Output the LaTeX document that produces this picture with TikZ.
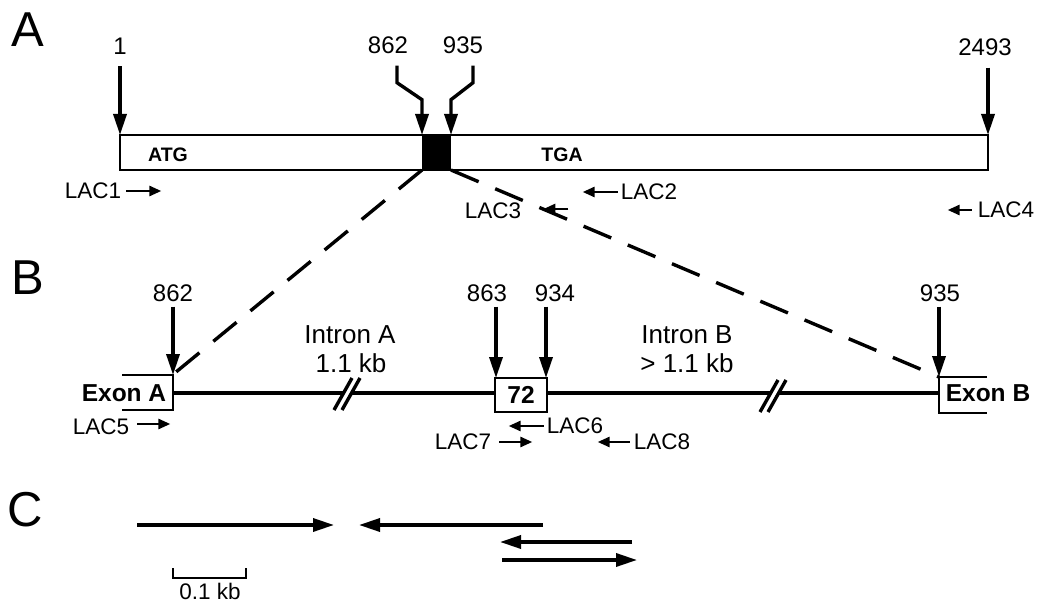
\documentclass[tikz,border=0pt]{standalone}
\usepackage{fontspec}
\setmainfont{Liberation Sans}
\usetikzlibrary{arrows.meta}
\tikzset{
  big/.style={line width=3.4pt,-{Triangle[length=21pt,width=13pt]}},
  prim/.style={line width=2.6pt,-{Triangle[length=12pt,width=10pt]}},
  lac/.style={font=\fontsize{22.5}{26}\selectfont,inner sep=0pt},
  num/.style={font=\fontsize{24}{28}\selectfont,inner sep=0pt},
  intr/.style={font=\fontsize{26}{30}\selectfont,inner sep=0pt},
  panel/.style={font=\fontsize{49}{55}\selectfont,inner sep=0pt},
  exon/.style={font=\bfseries\fontsize{24.5}{28}\selectfont,inner sep=0pt},
  codon/.style={font=\bfseries\fontsize{19.5}{22}\selectfont,inner sep=0pt},
  boxline/.style={line width=2.8pt},
  dashline/.style={line width=3.4pt,dash pattern=on 30pt off 18pt},
  brk/.pic={
    \fill[white] (-13,16) -- (-5,16) -- (13,-16) -- (5,-16) -- cycle;
    \draw[line width=3.4pt] (-13,16) -- (5,-16);
    \draw[line width=3.4pt] (-5,16) -- (13,-16);
  }
}
\begin{document}
\begin{tikzpicture}[x=1pt,y=-1pt]
\useasboundingbox (0,0) rectangle (1043,604);
% ---------------- Panel A ----------------
\node[panel] (pA) at (28,30) {A};
\node[draw,boxline,minimum width=868pt,minimum height=35pt,inner sep=0pt,outer sep=0pt,anchor=north west] (gene) at (120,135) {};
\node[fill=black,minimum width=29pt,minimum height=35pt,inner sep=0pt,outer sep=0pt,anchor=north west] (blk) at (422,135) {};
\node[codon] (atg) at (168,155) {ATG};
\node[codon] (tga) at (562,155) {TGA};
\node[num] (n1) at (120,46) {1};
\node[num] (n862) at (388,45) {862};
\node[num] (n935) at (463,45) {935};
\node[num] (n2493) at (985,47) {2493};
\draw[big] ([yshift=-12pt]n1.south) -- (gene.north west);
\draw[big,line join=miter] ([xshift=9pt,yshift=-12pt]n862.south) -- ++(0,17) -- ++(25,17) -- (blk.north west);
\draw[big,line join=miter] ([xshift=10pt,yshift=-12pt]n935.south) -- ++(0,17) -- ++(-22,17) -- (blk.north east);
\draw[big] ([xshift=3pt,yshift=-12pt]n2493.south) -- (gene.north east);
% exon boxes in B (coordinates)
\coordinate (eAtr) at (173,375);
\coordinate (eAbr) at (173,410);
\coordinate (eBtl) at (939,377);
\coordinate (eBbl) at (939,413);
% dashed zoom lines
\draw[dashline] (blk.south west) -- (176,372);
\draw[dashline] (blk.south east) -- (eBtl);
% primers A
\node[lac] (lac1) at (93,191) {LAC1};
\draw[prim] ([xshift=5pt]lac1.east) -- ++(35,0);
\node[lac] (lac2) at (649,192) {LAC2};
\draw[prim] ([xshift=-3pt]lac2.west) -- ++(-35,0);
\node[lac,fill=white] (lac3) at (493,211) {LAC3};
\draw[prim] ([xshift=47pt,yshift=2pt]lac3.east) -- ([xshift=22pt,yshift=2pt]lac3.east);
\node[lac] (lac4) at (1006,210) {LAC4};
\draw[prim] ([xshift=-6pt]lac4.west) -- ++(-24,0);
% ---------------- Panel B ----------------
\node[panel] (pB) at (28,278) {B};
\draw[boxline] (122,375) -- (eAtr) -- (eAbr) -- (122,410);
\draw[boxline] (987,377) -- (eBtl) -- (eBbl) -- (987,413);
\node[exon] (exA) at (124,393) {Exon A};
\node[exon] (exB) at (988,393) {Exon B};
\node[draw,boxline,exon,minimum width=52pt,minimum height=34pt,outer sep=0pt] (x72) at (521,395) {72};
\draw[line width=4.4pt] (173,393) -- (x72.west |- 0,393);
\draw[line width=4.4pt] (x72.east |- 0,393) -- (939,393);
\pic at (347,394) {brk};
\pic at (773,396) {brk};
\node[intr] (inA1) at (350,335) {Intron A};
\node[intr] (inA2) at (351,363) {1.1 kb};
\node[intr] (inB1) at (687,335) {Intron B};
\node[intr] (inB2) at (687,363) {> 1.1 kb};
\node[num] (b862) at (173,293) {862};
\node[num] (b863) at (487,293) {863};
\node[num] (b934) at (555,293) {934};
\node[num] (b935) at (940,293) {935};
\draw[big] ([yshift=-5pt]b862.south) -- (eAtr);
\draw[big] ([xshift=9pt,yshift=-5pt]b863.south) -- ([xshift=1pt]x72.north west);
\draw[big] ([xshift=-9pt,yshift=-5pt]b934.south) -- ([xshift=-1pt]x72.north east);
\draw[big] ([xshift=-1pt,yshift=-5pt]b935.south) -- (eBtl);
% primers B
\node[lac] (lac5) at (101,427) {LAC5};
\draw[prim] ([xshift=8pt,yshift=3pt]lac5.east) -- ++(33,0);
\node[lac] (lac6) at (575,426) {LAC6};
\draw[prim] ([xshift=-3pt]lac6.west) -- ++(-35,0);
\node[lac] (lac7) at (463,442) {LAC7};
\draw[prim] ([xshift=8pt]lac7.east) -- ++(33,0);
\node[lac] (lac8) at (662,442) {LAC8};
\draw[prim] ([xshift=-4pt]lac8.west) -- ++(-32,0);
% ---------------- Panel C ----------------
\node[panel] (pC) at (25,510) {C};
\coordinate (c1a) at (137,525);
\coordinate (c1b) at (334,525);
\coordinate (c2a) at (543,525);
\coordinate (c2b) at (359,525);
\coordinate (c3a) at (632,542);
\coordinate (c3b) at (500,542);
\coordinate (c4a) at (502,560);
\coordinate (c4b) at (637,560);
\draw[big] (c1a) -- (c1b);
\draw[big] (c2a) -- (c2b);
\draw[big] (c3a) -- (c3b);
\draw[big] (c4a) -- (c4b);
\draw[line width=2.8pt] (173,568) -- (173,578) -- (246,578) -- (246,568);
\node[lac] (scl) at (210,591) {0.1 kb};
\end{tikzpicture}
\end{document}
